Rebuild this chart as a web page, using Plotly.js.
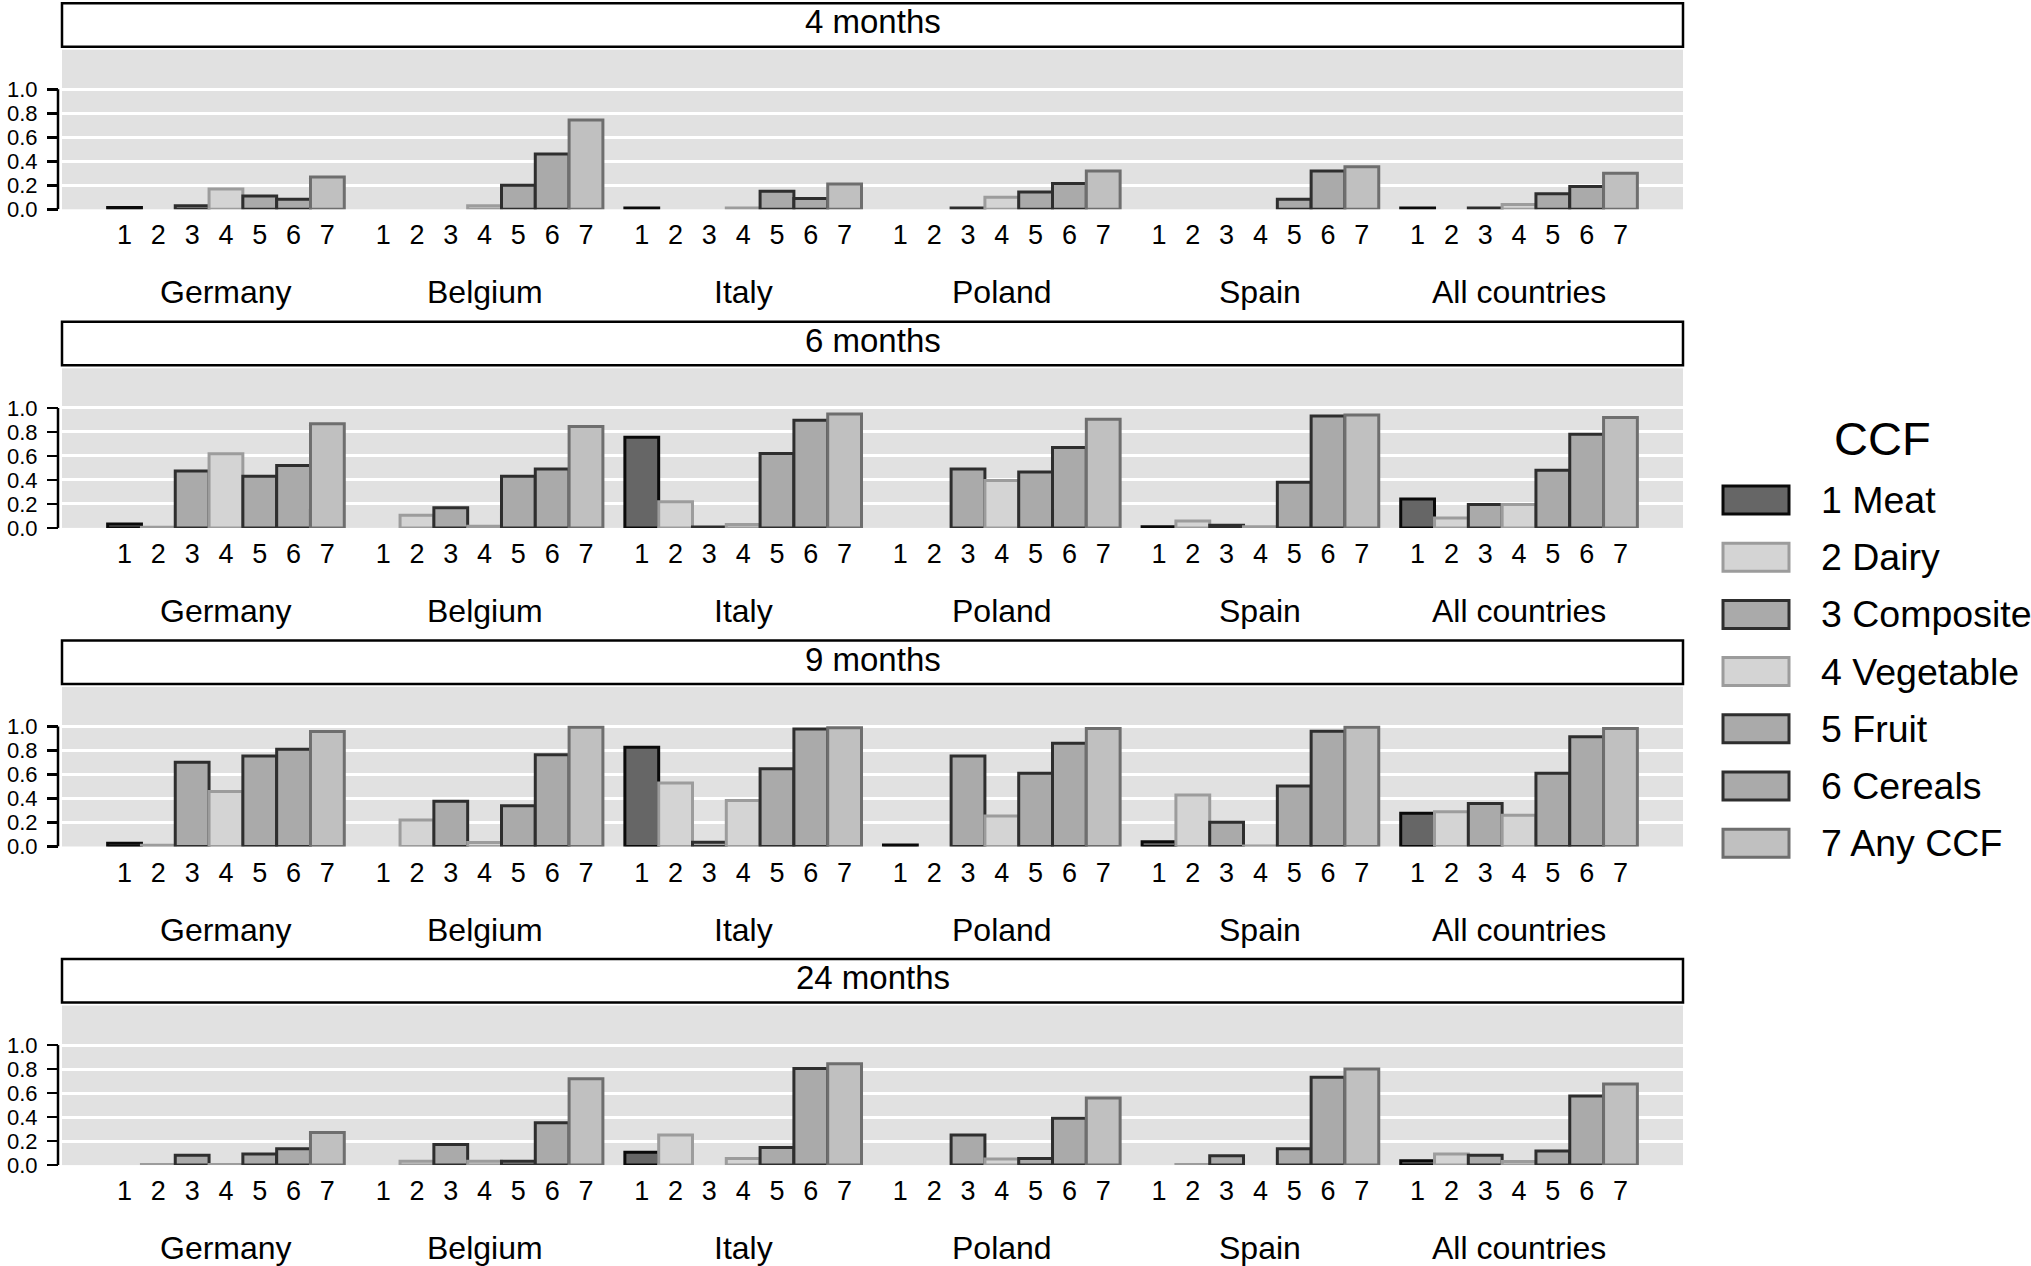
<!DOCTYPE html>
<html><head><meta charset="utf-8">
<script src="https://cdn.plot.ly/plotly-3.0.1.min.js"></script>
<style>html,body{margin:0;padding:0;background:#fff;} #chart{width:2031px;height:1266px;}</style>
</head><body><div id="chart"></div>
<script>
// ---------------- data ----------------
const ages = ["4 months", "6 months", "9 months", "24 months"];
const countries = ["Germany", "Belgium", "Italy", "Poland", "Spain", "All countries"];
const ccfNames = ["1 Meat", "2 Dairy", "3 Composite", "4 Vegetable", "5 Fruit", "6 Cereals", "7 Any CCF"];
const ccfTicks = ["1", "2", "3", "4", "5", "6", "7"];
const yTickVals = [0, 0.2, 0.4, 0.6, 0.8, 1.0];
const yTickText = ["0.0", "0.2", "0.4", "0.6", "0.8", "1.0"];

// proportions per country (rows) and CCF type (columns)
const months4 = [
  [0.015, 0, 0.03, 0.17, 0.11, 0.083, 0.27],
  [0, 0, 0, 0.03, 0.20, 0.46, 0.745],
  [0.01, 0, 0, 0.01, 0.15, 0.09, 0.21],
  [0, 0, 0.01, 0.10, 0.145, 0.215, 0.32],
  [0, 0, 0, 0, 0.083, 0.32, 0.355],
  [0.01, 0, 0.01, 0.04, 0.13, 0.19, 0.30]
];
const months6 = [
  [0.033, 0.005, 0.475, 0.617, 0.43, 0.52, 0.867],
  [0, 0.105, 0.167, 0.014, 0.43, 0.49, 0.845],
  [0.755, 0.217, 0.008, 0.028, 0.62, 0.897, 0.95],
  [0, 0, 0.49, 0.395, 0.465, 0.67, 0.905],
  [0.01, 0.058, 0.022, 0.01, 0.38, 0.933, 0.94],
  [0.24, 0.083, 0.195, 0.195, 0.48, 0.78, 0.92]
];
const months9 = [
  [0.028, 0.01, 0.703, 0.458, 0.755, 0.81, 0.958],
  [0, 0.22, 0.378, 0.033, 0.34, 0.764, 0.994],
  [0.828, 0.53, 0.036, 0.383, 0.647, 0.98, 0.989],
  [0.012, 0, 0.755, 0.255, 0.61, 0.861, 0.983],
  [0.04, 0.43, 0.203, 0.005, 0.505, 0.96, 0.994],
  [0.278, 0.29, 0.358, 0.26, 0.61, 0.914, 0.983]
];
const months24 = [
  [0, 0.005, 0.083, 0.005, 0.092, 0.136, 0.272],
  [0, 0.033, 0.172, 0.033, 0.033, 0.353, 0.72],
  [0.108, 0.25, 0, 0.056, 0.147, 0.806, 0.844],
  [0, 0, 0.25, 0.05, 0.056, 0.39, 0.56],
  [0, 0.005, 0.078, 0, 0.136, 0.733, 0.80],
  [0.036, 0.092, 0.083, 0.03, 0.117, 0.575, 0.675]
];
const panels = [months4, months6, months9, months24];

// ---------------- styles ----------------
const fills = ["#666666", "#d4d4d4", "#aaaaaa", "#d4d4d4", "#aaaaaa", "#aaaaaa", "#c0c0c0"];
const borders = ["#0a0a0a", "#9c9c9c", "#2e2e2e", "#9c9c9c", "#2e2e2e", "#2e2e2e", "#6e6e6e"];
const FONT = "Liberation Sans, Arial, Helvetica, sans-serif";

const W = 2031, H = 1266;
const groupStep = 7.65;          // slot units between groups
const plotLeft = 62, plotRight = 1683, axisX = 58;
const rowBase = [209.3, 527.9, 846.5, 1165.1];  // pixel y of value 0
const pxPerUnit = 120;
const yMax = 1.33;
const px = v => v / W, py = v => 1 - v / H;

const traces = [];
const layout = {
  width: W, height: H,
  margin: {l: 0, r: 0, t: 0, b: 0, pad: 0},
  paper_bgcolor: "#ffffff",
  plot_bgcolor: "#e1e1e1",
  barmode: "overlay",
  showlegend: false,
  font: {family: FONT, color: "#000"},
  shapes: [], annotations: []
};

const tickVals = [], tickText = [];
countries.forEach((c, g) => ccfTicks.forEach((t, k) => { tickVals.push(g * groupStep + k); tickText.push(t); }));
const xRange = [-1.85, (countries.length - 1) * groupStep + 6 + 1.85];

panels.forEach((vals, r) => {
  const ax = r === 0 ? "" : String(r + 1);
  const base = rowBase[r];
  const top = base - yMax * pxPerUnit;
  ccfNames.forEach((name, k) => {
    traces.push({
      type: "bar",
      name: name,
      x: countries.map((c, g) => g * groupStep + k),
      y: vals.map(row => row[k] === 0 ? null : row[k]),
      width: 1,
      marker: {color: fills[k], line: {color: borders[k], width: 3}},
      xaxis: "x" + ax, yaxis: "y" + ax,
      hoverinfo: "skip", showlegend: false
    });
  });
  layout["xaxis" + ax] = {
    domain: [px(plotLeft), px(plotRight)], range: xRange, anchor: "y" + ax,
    tickmode: "array", tickvals: tickVals, ticktext: tickText,
    ticks: "", showgrid: false, zeroline: false, showline: false,
    tickfont: {size: 27, family: FONT, color: "#000"}, ticklabelstandoff: 7,
    fixedrange: true
  };
  layout["yaxis" + ax] = {
    domain: [py(base), py(top)], range: [0, yMax], anchor: "free", position: px(axisX),
    tickmode: "array", tickvals: yTickVals, ticktext: yTickText,
    ticks: "outside", ticklen: 11, tickwidth: 2.5, tickcolor: "#000",
    showgrid: true, gridcolor: "#ffffff", gridwidth: 3, zeroline: false, showline: false,
    tickfont: {size: 22, family: FONT, color: "#000"}, ticklabelstandoff: 5,
    fixedrange: true
  };
  // y axis line from 0 to 1
  layout.shapes.push({type: "line", xref: "paper", yref: "y" + ax, x0: px(axisX), x1: px(axisX), y0: 0, y1: 1,
    line: {color: "#000", width: 2.5}});
  // strip
  const sTop = top - 46.5, sBot = top - 3;
  layout.shapes.push({type: "rect", xref: "paper", yref: "paper", x0: px(plotLeft), x1: px(plotRight),
    y0: py(sBot), y1: py(sTop), fillcolor: "#ffffff", line: {color: "#000", width: 2.5}});
  layout.annotations.push({xref: "paper", yref: "paper", x: px((plotLeft + plotRight) / 2), y: py((sTop + sBot) / 2 - 3),
    text: ages[r], showarrow: false, xanchor: "center", yanchor: "middle",
    font: {size: 33, family: FONT, color: "#000"}});
  // country labels
  countries.forEach((c, g) => {
    layout.annotations.push({xref: "x" + ax, yref: "paper", x: g * groupStep + 3, y: py(base + 83),
      text: c, showarrow: false, xanchor: "center", yanchor: "middle",
      font: {size: 32, family: FONT, color: "#000"}});
  });
});

// legend (drawn manually to match the large swatches)
layout.annotations.push({xref: "paper", yref: "paper", x: px(1882), y: py(438), text: "CCF", showarrow: false,
  xanchor: "center", yanchor: "middle", font: {size: 47, family: FONT, color: "#000"}});
const legY0 = 500, legStep = 57.2;
ccfNames.forEach((name, k) => {
  const cy = legY0 + k * legStep;
  layout.shapes.push({type: "rect", xref: "paper", yref: "paper", x0: px(1723), x1: px(1789),
    y0: py(cy + 14), y1: py(cy - 14), fillcolor: fills[k], line: {color: borders[k], width: 3}});
  layout.annotations.push({xref: "paper", yref: "paper", x: px(1819), y: py(cy), text: name, showarrow: false,
    xanchor: "left", yanchor: "middle", font: {size: 37.5, family: FONT, color: "#000"}});
});

Plotly.newPlot("chart", traces, layout, {staticPlot: true, displayModeBar: false});
</script>
</body></html>
